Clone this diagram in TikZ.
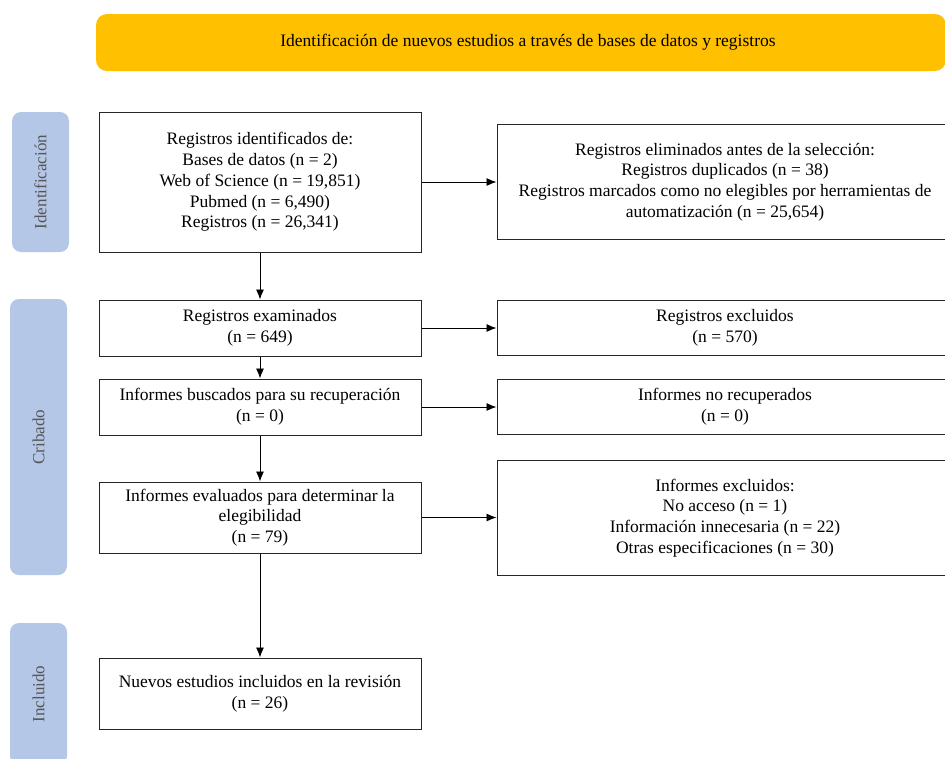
\documentclass[tikz,border=0pt]{standalone}
\usepackage{fontspec}
\setmainfont{Liberation Serif}
\usetikzlibrary{arrows.meta}
\definecolor{gold}{RGB}{255,192,0}
\definecolor{phase}{RGB}{180,199,231}
\definecolor{phasetext}{RGB}{85,85,85}
\begin{document}
\begin{tikzpicture}[x=1pt,y=-1pt,
  mainbox/.style={draw=black!85, line width=1pt, fill=white, align=center,
    inner sep=0pt, minimum width=322pt, font=\fontsize{17.5}{20.8}\selectfont},
  sidebox/.style={draw=black!85, line width=1pt, fill=white, align=center,
    inner sep=0pt, minimum width=456pt, font=\fontsize{17.5}{20.8}\selectfont},
  phasebox/.style={fill=phase, rounded corners=9pt, inner sep=0pt, minimum width=57pt},
  phaselabel/.style={rotate=90, text=phasetext, font=\fontsize{17}{20}\selectfont},
  arr/.style={-{Latex[length=10pt,width=8pt]}, line width=0.9pt, black}]
\useasboundingbox (0,0) rectangle (945,758);
\clip (0,0) rectangle (945,758);
\fill[white] (0,0) rectangle (945,758);

% header
\node[fill=gold, rounded corners=11pt, minimum width=850pt, minimum height=57pt, inner sep=0pt] (head) at (521,42.5) {};
\node[font=\fontsize{17.5}{20}\selectfont] (headtext) at (528,42.5)
  {Identificación de nuevos estudios a través de bases de datos y registros};

% phase labels
\node[phasebox, minimum height=140pt] (pid) at (40.5,182) {};
\node[phaselabel] (pidt) at (40.5,182) {Identificación};
\node[phasebox, minimum height=276pt] (pcr) at (38.5,437) {};
\node[phaselabel] (pcrt) at (38.5,437) {Cribado};
\node[phasebox, minimum height=142pt] (pin) at (38.5,694) {};
\node[phaselabel] (pint) at (38.5,694) {Incluido};

% main column
\node[mainbox, minimum height=140pt] (m1) at (260,182)
  {Registros identificados de:\\Bases de datos (n = 2)\\Web of Science (n = 19,851)\\Pubmed (n = 6,490)\\Registros (n = 26,341)};
\node[mainbox, minimum height=56pt] (m2) at (260,328)
  {Registros examinados\\(n = 649)};
\node[mainbox, minimum height=56pt] (m3) at (260,407)
  {Informes buscados para su recuperación\\(n = 0)};
\node[mainbox, minimum height=71pt] (m4) at (260,517.5)
  {Informes evaluados para determinar la\\elegibilidad\\(n = 79)};
\node[mainbox, minimum height=71pt] (m5) at (260,693.5)
  {Nuevos estudios incluidos en la revisión\\(n = 26)};

% right column
\node[sidebox, minimum height=115pt] (r1) at (725,182)
  {Registros eliminados antes de la selección:\\Registros duplicados (n = 38)\\Registros marcados como no elegibles por herramientas de\\automatización (n = 25,654)};
\node[sidebox, minimum height=55pt] (r2) at (725,328)
  {Registros excluidos\\(n = 570)};
\node[sidebox, minimum height=55pt] (r3) at (725,407)
  {Informes no recuperados\\(n = 0)};
\node[sidebox, minimum height=115pt] (r4) at (725,518)
  {Informes excluidos:\\No acceso (n = 1)\\Información innecesaria (n = 22)\\Otras especificaciones (n = 30)};

% connectors
\draw[arr] (m1.south) -- (m2.north);
\draw[arr] (m2.south) -- (m3.north);
\draw[arr] (m3.south) -- (m4.north);
\draw[arr] (m4.south) -- (m5.north);
\draw[arr] (m1.east) -- (m1.east -| r1.west);
\draw[arr] (m2.east) -- (m2.east -| r2.west);
\draw[arr] (m3.east) -- (m3.east -| r3.west);
\draw[arr] (m4.east) -- (m4.east -| r4.west);
\end{tikzpicture}
\end{document}
